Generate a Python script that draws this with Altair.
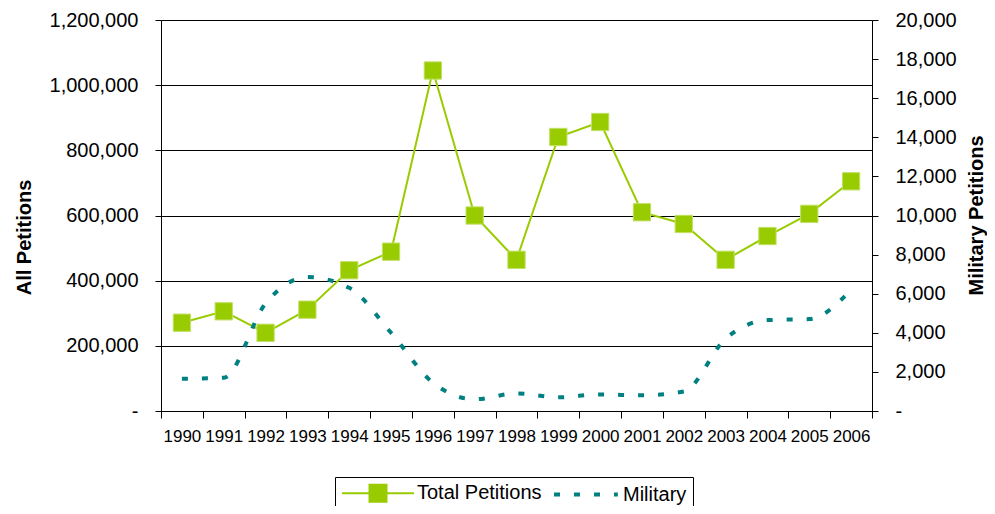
import altair as alt
import pandas as pd

years = [str(y) for y in range(1990, 2007)]
total_petitions = [271000, 306000, 240000, 311000, 432000, 489000, 1045000, 600000, 464000,
                   841000, 887000, 610000, 574000, 464000, 537000, 605000, 705000]
military = [1650, 1700, 5500, 6850, 6300, 4000, 1450, 600, 900, 700, 850, 800, 1000,
            3700, 4650, 4700, 6200]
series_names = ["Total Petitions", "Military"]

GREEN = "#99CC00"
TEAL = "#008080"
FONT = "Liberation Sans"

df_total = pd.DataFrame({"year": years, "value": total_petitions, "series": series_names[0]})
df_mil = pd.DataFrame({"year": years, "value": military, "series": series_names[1]})

x = alt.X("year:O", title=None,
          scale=alt.Scale(paddingInner=0, paddingOuter=0),
          axis=alt.Axis(labelAngle=0, tickBand="extent", domainColor="black", tickColor="black",
                        tickSize=7, labelPadding=10, labelFontSize=17, labelColor="black",
                        labelFont=FONT, grid=False))

total_sym = "M-0.25,0H1.75M0.514,-0.236H0.986V0.236H0.514Z"
mil_sym = "M-0.083,0H1.69"

color = alt.Color("series:N", title=None,
                  scale=alt.Scale(domain=series_names, range=[GREEN, TEAL]),
                  legend=alt.Legend(
                      orient="none", legendX=174, legendY=457, direction="horizontal",
                      strokeColor="black", padding=6, labelFontSize=20, labelFont=FONT,
                      labelColor="black", symbolSize=5184, labelOffset=56, columnPadding=4,
                      symbolType={"expr": f"datum.value == 'Military' ? '{mil_sym}' : '{total_sym}'"},
                      symbolFillColor={"expr": "datum.value == 'Military' ? 'transparent' : '#99CC00'"},
                      symbolStrokeColor={"expr": "datum.value == 'Military' ? '#008080' : '#99CC00'"},
                      symbolStrokeWidth={"expr": "datum.value == 'Military' ? 4 : 2"},
                      symbolDash={"expr": "datum.value == 'Military' ? [6, 14] : [1, 0]"},
                      symbolOpacity=1))

y_left = alt.Y("value:Q", title="All Petitions",
               scale=alt.Scale(domain=[0, 1200000], nice=False, zero=True),
               axis=alt.Axis(values=list(range(0, 1200001, 200000)),
                             labelExpr="datum.value == 0 ? '-' : format(datum.value, ',')",
                             grid=True, gridColor="black", gridOpacity=1, gridWidth=1,
                             domainColor="black", tickColor="black", tickSize=6,
                             labelPadding=17, labelFontSize=20, labelFont=FONT, labelColor="black",
                             titleFontSize=20, titleFont=FONT, titleFontWeight="bold",
                             titleColor="black", titleX=-137, titleY=217, titleBaseline="middle",
                             titleAngle=270))

y_right = alt.Y("value:Q", title="Military Petitions",
                scale=alt.Scale(domain=[0, 20000], nice=False, zero=True),
                axis=alt.Axis(orient="right", values=list(range(0, 20001, 2000)),
                              labelExpr="datum.value == 0 ? '-' : format(datum.value, ',')",
                              grid=False, domainColor="black", tickColor="black", tickSize=6,
                              labelPadding=17, labelFontSize=20, labelFont=FONT, labelColor="black",
                              titleFontSize=20, titleFont=FONT, titleFontWeight="bold",
                              titleColor="black", titleX=104, titleY=195, titleBaseline="middle",
                              titleAngle=270))

total_line = alt.Chart(df_total).mark_line(strokeWidth=2).encode(x=x, y=y_left, color=color)
total_pts = alt.Chart(df_total).mark_point(shape="square", filled=True, size=300, opacity=1,
                                           stroke="#C2E066", strokeWidth=1).encode(
    x=x, y=y_left, color=color)
left = alt.layer(total_line, total_pts)

mil_line = alt.Chart(df_mil).mark_line(strokeWidth=4, strokeDash=[6, 14],
                                       interpolate="monotone").encode(x=x, y=y_right, color=color)

chart = alt.layer(left, mil_line).resolve_scale(y="independent").properties(
    width=711, height=391,
    autosize=alt.AutoSizeParams(type="none"),
    padding={"left": 153, "top": 12, "right": 115, "bottom": 95},
).configure_view(stroke=None).configure(background="white")

chart.save("out.html", embed_options={"renderer": "svg", "actions": False})
